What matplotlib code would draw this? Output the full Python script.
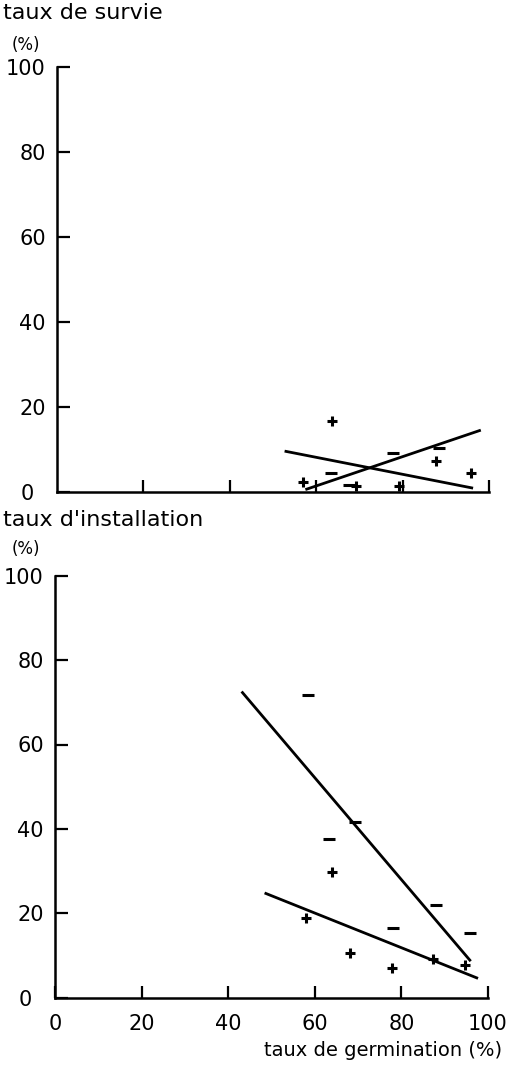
import matplotlib
matplotlib.use("Agg")
import matplotlib.pyplot as plt
from matplotlib.transforms import ScaledTranslation

# ---- data ----
ticks = [0, 20, 40, 60, 80, 100]
tick_labels = ["0", "20", "40", "60", "80", "100"]

# top panel: taux de survie vs taux de germination
surv_plus_x = [63.6, 87.7, 95.9, 57.0, 69.2, 79.2]
surv_plus_y = [16.7, 7.3, 4.3, 2.4, 1.4, 1.4]
surv_minus_x = [77.7, 88.5, 63.4, 67.6]
surv_minus_y = [9.2, 10.2, 4.5, 1.6]
surv_fit_plus_x = [53.0, 96.0]
surv_fit_plus_y = [9.5, 0.9]
surv_fit_minus_x = [57.8, 97.8]
surv_fit_minus_y = [0.6, 14.4]

# bottom panel: taux d'installation vs taux de germination
inst_plus_x = [57.9, 68.1, 77.8, 87.2, 94.7, 63.9]
inst_plus_y = [18.8, 10.7, 7.1, 9.1, 7.7, 29.7]
inst_minus_x = [58.4, 69.3, 63.3, 78.0, 88.0, 95.8]
inst_minus_y = [71.7, 41.6, 37.5, 16.4, 21.9, 15.4]
inst_fit_minus_x = [43.3, 95.8]
inst_fit_minus_y = [72.3, 8.9]
inst_fit_plus_x = [48.7, 97.4]
inst_fit_plus_y = [24.7, 4.7]

W, H = 514, 1067
fig = plt.figure(figsize=(W / 100, H / 100), dpi=100)
fig.patch.set_facecolor("white")

ax1 = fig.add_axes([57 / W, 1 - 491.7 / H, 432 / W, 424.4 / H])
ax2 = fig.add_axes([55 / W, 1 - 997.7 / H, 433 / W, 422 / H])

TICKFS = 15
for ax in (ax1, ax2):
    ax.set_xlim(0, 100)
    ax.set_ylim(0, 100)
    for s in ("top", "right"):
        ax.spines[s].set_visible(False)
    for s in ("left", "bottom"):
        ax.spines[s].set_linewidth(1.8)
        ax.spines[s].set_color("black")
    ax.tick_params(direction="in", length=9, width=1.6, colors="black",
                   labelsize=TICKFS)
    ax.tick_params(axis="y", pad=8)
    ax.tick_params(axis="x", pad=12)
    ax.set_yticks(ticks)
    ax.set_yticklabels(tick_labels)
    ax.set_facecolor("white")

ax1.set_xticks(ticks[1:])
ax1.set_xticklabels([])
ax2.set_xticks(ticks)
ax2.set_xticklabels(tick_labels)

# shift the "0" y label slightly left as in the reference
for ax in (ax1, ax2):
    t0 = ax.yaxis.get_major_ticks()[0]
    t0.label1.set_transform(t0.label1.get_transform()
                            + ScaledTranslation(-0.12, 0, fig.dpi_scale_trans))

mk = dict(linestyle="none", color="black", clip_on=False)
# top
ax1.plot(surv_fit_plus_x, surv_fit_plus_y, color="black", lw=2)
ax1.plot(surv_fit_minus_x, surv_fit_minus_y, color="black", lw=2)
ax1.plot(surv_plus_x, surv_plus_y, marker="+", markersize=7, mew=2.2, **mk)
ax1.plot(surv_minus_x, surv_minus_y, marker="_", markersize=8, mew=2.2, **mk)
# bottom
ax2.plot(inst_fit_minus_x, inst_fit_minus_y, color="black", lw=2)
ax2.plot(inst_fit_plus_x, inst_fit_plus_y, color="black", lw=2)
ax2.plot(inst_plus_x, inst_plus_y, marker="+", markersize=7, mew=2.2, **mk)
ax2.plot(inst_minus_x, inst_minus_y, marker="_", markersize=8, mew=2.2, **mk)

# texts
fig.text(3 / W, 1 - 13 / H, "taux de survie", fontsize=16,
         ha="left", va="center")
fig.text(12 / W, 1 - 45 / H, "(%)", fontsize=12, ha="left", va="center")
fig.text(3 / W, 1 - 520 / H, "taux d'installation", fontsize=16,
         ha="left", va="center")
fig.text(12 / W, 1 - 549 / H, "(%)", fontsize=12, ha="left", va="center")
fig.text(502 / W, 1 - 1050 / H, "taux de germination (%)", fontsize=14,
         ha="right", va="center")

fig.savefig("out.png", dpi=100, facecolor="white")
